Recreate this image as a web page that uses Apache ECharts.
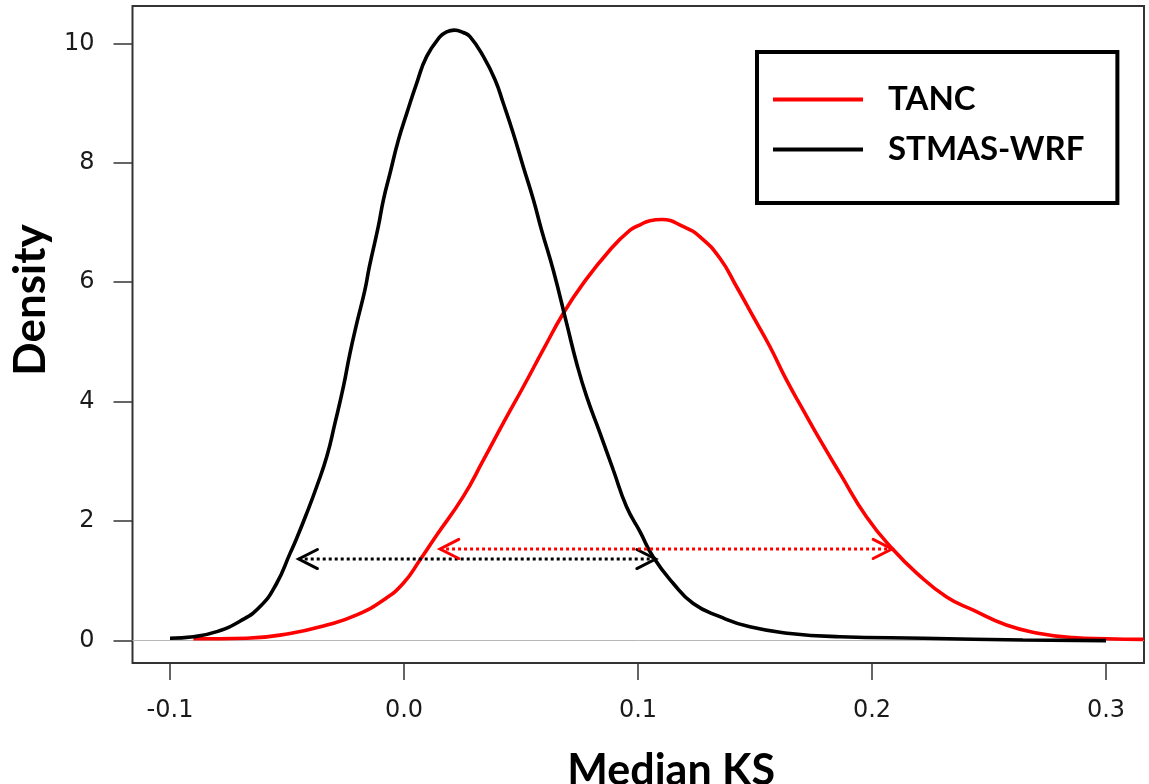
<!DOCTYPE html>
<html>
<head>
<meta charset="utf-8">
<script src="https://cdn.jsdelivr.net/npm/echarts@6/dist/echarts.min.js"></script>
<style>
html,body{margin:0;padding:0;background:#fff;}
#chart{width:1149px;height:784px;}
</style>
</head>
<body>
<div id="chart"></div>
<script>
// ---- data ----
const seriesNames = ['TANC', 'STMAS-WRF'];
const tancX = [-0.090, -0.0672, -0.0487, -0.033, -0.0202, -0.0088, -0.0003, 0.0068, 0.0135, 0.0253, 0.0339, 0.0424, 0.051, 0.0595, 0.0681, 0.0766, 0.088, 0.0966, 0.1009, 0.1051, 0.1101, 0.1194, 0.1265, 0.135, 0.1422, 0.1493, 0.1564, 0.1635, 0.1706, 0.1778, 0.1863, 0.1977, 0.2091, 0.2191, 0.2319, 0.2433, 0.2574, 0.2716, 0.286, 0.300, 0.316];
const tancY = [0.03, 0.04, 0.12, 0.26, 0.43, 0.68, 0.96, 1.35, 1.74, 2.41, 3.02, 3.64, 4.25, 4.87, 5.48, 5.98, 6.54, 6.87, 6.96, 7.03, 7.05, 6.93, 6.76, 6.40, 5.92, 5.42, 4.92, 4.36, 3.86, 3.36, 2.80, 2.07, 1.52, 1.13, 0.73, 0.51, 0.26, 0.12, 0.05, 0.03, 0.02];
const stmasX = [-0.100, -0.090, -0.080, -0.0703, -0.0615, -0.0544, -0.0487, -0.0459, -0.0416, -0.0373, -0.033, -0.0295, -0.0259, -0.0231, -0.0202, -0.0167, -0.0148, -0.011, -0.0088, -0.006, -0.0024, 0.0012, 0.0054, 0.0097, 0.0154, 0.0182, 0.0215, 0.0253, 0.0282, 0.0339, 0.0389, 0.0424, 0.0467, 0.051, 0.0553, 0.0588, 0.0638, 0.0695, 0.0738, 0.0781, 0.0838, 0.0894, 0.0951, 0.1009, 0.1065, 0.115, 0.1236, 0.135, 0.1478, 0.165, 0.1863, 0.222, 0.2645, 0.300];
const stmasY = [0.04, 0.065, 0.15, 0.32, 0.57, 0.96, 1.46, 1.71, 2.13, 2.58, 3.08, 3.64, 4.25, 4.81, 5.31, 5.87, 6.26, 6.93, 7.38, 7.82, 8.38, 8.83, 9.33, 9.78, 10.11, 10.19, 10.22, 10.18, 10.11, 9.78, 9.39, 9.0, 8.49, 7.93, 7.38, 6.87, 6.2, 5.31, 4.64, 4.08, 3.47, 2.86, 2.24, 1.82, 1.40, 0.96, 0.62, 0.40, 0.23, 0.12, 0.065, 0.04, 0.01, 0.0];
// double arrows: [xStart, xEnd, y]
const arrowBlack = [-0.045, 0.1075, 1.366];
const arrowRed = [0.0154, 0.2085, 1.534];
const xTicks = [-0.1, 0.0, 0.1, 0.2, 0.3];
const yTicks = [0, 2, 4, 6, 8, 10];

const pairs = (xs, ys) => xs.map((x, i) => [x, ys[i]]);

const chart = echarts.init(document.getElementById('chart'), null, {renderer: 'canvas'});

function arrowRender(color) {
  return function (params, api) {
    const p1 = api.coord([api.value(0), api.value(2)]);
    const p2 = api.coord([api.value(1), api.value(2)]);
    const L = 21, a = 27 * Math.PI / 180;
    const dx = L * Math.cos(a), dy = L * Math.sin(a);
    const headStyle = {stroke: color, lineWidth: 3, fill: null, lineCap: 'round', lineJoin: 'miter'};
    return {
      type: 'group',
      children: [
        {type: 'line', shape: {x1: p1[0], y1: p1[1], x2: p2[0], y2: p2[1]},
         style: {stroke: color, lineWidth: 3, lineDash: [3, 3], lineCap: 'butt'}},
        {type: 'polyline', shape: {points: [[p1[0] + dx, p1[1] - dy], p1, [p1[0] + dx, p1[1] + dy]]}, style: headStyle},
        {type: 'polyline', shape: {points: [[p2[0] - dx, p2[1] - dy], p2, [p2[0] - dx, p2[1] + dy]]}, style: headStyle}
      ]
    };
  };
}

const tickFont = {fontFamily: 'DejaVu Sans', fontSize: 24, color: '#1a1a1a'};

chart.setOption({
  animation: false,
  backgroundColor: '#fff',
  grid: {left: 132.5, right: 5, top: 6, bottom: 121, show: true, borderColor: '#333', borderWidth: 2,
         backgroundColor: 'transparent', containLabel: false, outerBoundsMode: 'none'},
  legend: {
    orient: 'vertical', left: 757, top: 52,
    padding: [31, 33, 37, 16],
    itemWidth: 90, itemHeight: 4, itemGap: 17, icon: 'rect',
    borderColor: '#000', borderWidth: 4, backgroundColor: '#fff',
    data: seriesNames,
    textStyle: {fontFamily: 'Lato', fontWeight: 'bold', fontSize: 33, color: '#000', padding: [0, 0, 0, 20]}
  },
  xAxis: {
    type: 'value', min: -0.11603, max: 0.31624,
    name: 'Median KS', nameLocation: 'middle', nameGap: 87,
    nameTextStyle: {fontFamily: 'Lato', fontWeight: 'bold', fontSize: 43, color: '#000', padding: [0, 0, 0, 66]},
    axisLine: {show: false, onZero: false},
    axisTick: {show: true, inside: false, length: 17, lineStyle: {color: '#333', width: 1.5}, customValues: xTicks},
    axisLabel: Object.assign({margin: 36, customValues: xTicks, formatter: v => v.toFixed(1)}, tickFont),
    splitLine: {show: false}
  },
  yAxis: {
    type: 'value', min: -0.375, max: 10.624,
    name: 'Density', nameLocation: 'middle', nameGap: 72,
    nameTextStyle: {fontFamily: 'Lato', fontWeight: 'bold', fontSize: 44, color: '#000', padding: [0, 0, 0, 69]},
    axisLine: {show: false, onZero: false},
    axisTick: {show: true, inside: false, length: 19, lineStyle: {color: '#333', width: 1.5}, customValues: yTicks},
    axisLabel: Object.assign({margin: 38, customValues: yTicks, formatter: v => String(v)}, tickFont),
    splitLine: {show: false}
  },
  series: [
    {
      name: 'TANC', type: 'line', data: pairs(tancX, tancY),
      showSymbol: false, smooth: 0.5, clip: true,
      lineStyle: {color: '#ff0000', width: 3.6}, itemStyle: {color: '#ff0000'},
      z: 3,
      markLine: {
        silent: true, symbol: 'none', label: {show: false},
        lineStyle: {color: '#b8b8b8', width: 1, type: 'solid'},
        data: [{yAxis: 0}], z: 1
      }
    },
    {
      name: 'STMAS-WRF', type: 'line', data: pairs(stmasX, stmasY),
      showSymbol: false, smooth: 0.5, clip: true,
      lineStyle: {color: '#000000', width: 3.6}, itemStyle: {color: '#000000'},
      z: 4
    },
    {
      type: 'custom', name: 'arrowBlack', data: [arrowBlack],
      encode: {x: [0, 1], y: 2}, renderItem: arrowRender('#000'), z: 5, silent: true
    },
    {
      type: 'custom', name: 'arrowRed', data: [arrowRed],
      encode: {x: [0, 1], y: 2}, renderItem: arrowRender('#ff0000'), z: 5, silent: true
    }
  ]
});
</script>
</body>
</html>
